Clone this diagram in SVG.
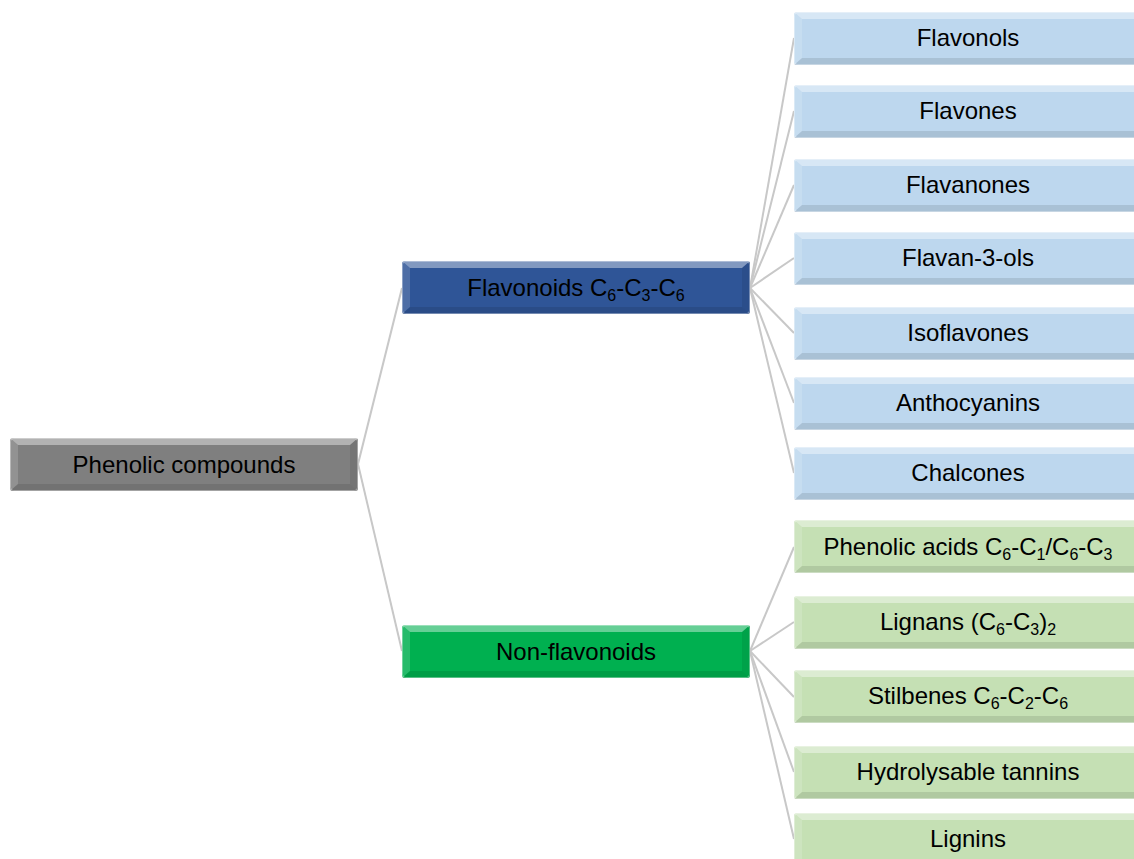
<svg xmlns="http://www.w3.org/2000/svg" xmlns:xlink="http://www.w3.org/1999/xlink" width="1134" height="859" viewBox="0 0 1134 859">
<style>
.lbl{font-family:"Liberation Sans",Arial,sans-serif;font-size:24px;fill:#000;text-anchor:middle}
.sub{font-size:16px}
.conn{stroke:#c8c8c8;stroke-width:2;fill:none}
.root{fill:#7f7f7f}
.flav{fill:#2f5597}
.non{fill:#00b050}
.lb{fill:#bdd7ee}
.lg{fill:#c5e0b4}
</style>
<defs>
<g id="bevel">
<polygon points="0,0 348,0 340,7 8,7" fill="#fff" opacity="0.4"/>
<polygon points="0,0 8,7 8,46 0,53" fill="#fff" opacity="0.15"/>
<polygon points="348,0 340,7 340,46 348,53" fill="#000" opacity="0.08"/>
<polygon points="0,53 8,46 340,46 348,53" fill="#000" opacity="0.1"/>
<rect x="0.5" y="0.5" width="347" height="52" rx="3" fill="none" stroke="#fff" stroke-opacity="0.35"/>
</g>
</defs>
<g id="connectors">
<line class="conn" x1="358" y1="464" x2="402" y2="288"/>
<line class="conn" x1="358" y1="464" x2="402" y2="651"/>
<line class="conn" x1="750" y1="288" x2="794" y2="38"/>
<line class="conn" x1="750" y1="288" x2="794" y2="111"/>
<line class="conn" x1="750" y1="288" x2="794" y2="185"/>
<line class="conn" x1="750" y1="288" x2="794" y2="258"/>
<line class="conn" x1="750" y1="288" x2="794" y2="333"/>
<line class="conn" x1="750" y1="288" x2="794" y2="403"/>
<line class="conn" x1="750" y1="288" x2="794" y2="473"/>
<line class="conn" x1="750" y1="651" x2="794" y2="547"/>
<line class="conn" x1="750" y1="651" x2="794" y2="622"/>
<line class="conn" x1="750" y1="651" x2="794" y2="697"/>
<line class="conn" x1="750" y1="651" x2="794" y2="772"/>
<line class="conn" x1="750" y1="651" x2="794" y2="839"/>
</g>
<g id="node-root" transform="translate(10,438)">
<rect class="root" width="348" height="53" rx="3"/><use xlink:href="#bevel"/>
<text class="lbl" x="174" y="35">Phenolic compounds</text>
</g>
<g id="node-flavonoids" transform="translate(402,261)">
<rect class="flav" width="348" height="53" rx="3"/><use xlink:href="#bevel"/>
<text class="lbl" x="174" y="35">Flavonoids C<tspan class="sub" dy="5">6</tspan><tspan dy="-5">-C</tspan><tspan class="sub" dy="5">3</tspan><tspan dy="-5">-C</tspan><tspan class="sub" dy="5">6</tspan></text>
</g>
<g id="node-nonflavonoids" transform="translate(402,625)">
<rect class="non" width="348" height="53" rx="3"/><use xlink:href="#bevel"/>
<text class="lbl" x="174" y="35">Non-flavonoids</text>
</g>
<g id="node-flavonols" transform="translate(794,12)">
<rect class="lb" width="348" height="53" rx="3"/><use xlink:href="#bevel"/>
<text class="lbl" x="174" y="34">Flavonols</text>
</g>
<g id="node-flavones" transform="translate(794,85)">
<rect class="lb" width="348" height="53" rx="3"/><use xlink:href="#bevel"/>
<text class="lbl" x="174" y="34">Flavones</text>
</g>
<g id="node-flavanones" transform="translate(794,159)">
<rect class="lb" width="348" height="53" rx="3"/><use xlink:href="#bevel"/>
<text class="lbl" x="174" y="34">Flavanones</text>
</g>
<g id="node-flavan3ols" transform="translate(794,232)">
<rect class="lb" width="348" height="53" rx="3"/><use xlink:href="#bevel"/>
<text class="lbl" x="174" y="34">Flavan-3-ols</text>
</g>
<g id="node-isoflavones" transform="translate(794,307)">
<rect class="lb" width="348" height="53" rx="3"/><use xlink:href="#bevel"/>
<text class="lbl" x="174" y="34">Isoflavones</text>
</g>
<g id="node-anthocyanins" transform="translate(794,377)">
<rect class="lb" width="348" height="53" rx="3"/><use xlink:href="#bevel"/>
<text class="lbl" x="174" y="34">Anthocyanins</text>
</g>
<g id="node-chalcones" transform="translate(794,447)">
<rect class="lb" width="348" height="53" rx="3"/><use xlink:href="#bevel"/>
<text class="lbl" x="174" y="34">Chalcones</text>
</g>
<g id="node-phenolicacids" transform="translate(794,520)">
<rect class="lg" width="348" height="53" rx="3"/><use xlink:href="#bevel"/>
<text class="lbl" x="174" y="35">Phenolic acids C<tspan class="sub" dy="5">6</tspan><tspan dy="-5">-C</tspan><tspan class="sub" dy="5">1</tspan><tspan dy="-5">/C</tspan><tspan class="sub" dy="5">6</tspan><tspan dy="-5">-C</tspan><tspan class="sub" dy="5">3</tspan></text>
</g>
<g id="node-lignans" transform="translate(794,596)">
<rect class="lg" width="348" height="53" rx="3"/><use xlink:href="#bevel"/>
<text class="lbl" x="174" y="34">Lignans (C<tspan class="sub" dy="5">6</tspan><tspan dy="-5">-C</tspan><tspan class="sub" dy="5">3</tspan><tspan dy="-5">)</tspan><tspan class="sub" dy="5">2</tspan></text>
</g>
<g id="node-stilbenes" transform="translate(794,670)">
<rect class="lg" width="348" height="53" rx="3"/><use xlink:href="#bevel"/>
<text class="lbl" x="174" y="34">Stilbenes C<tspan class="sub" dy="5">6</tspan><tspan dy="-5">-C</tspan><tspan class="sub" dy="5">2</tspan><tspan dy="-5">-C</tspan><tspan class="sub" dy="5">6</tspan></text>
</g>
<g id="node-hydrolysable" transform="translate(794,746)">
<rect class="lg" width="348" height="53" rx="3"/><use xlink:href="#bevel"/>
<text class="lbl" x="174" y="34">Hydrolysable tannins</text>
</g>
<g id="node-lignins" transform="translate(794,813)">
<rect class="lg" width="348" height="53" rx="3"/><use xlink:href="#bevel"/>
<text class="lbl" x="174" y="34">Lignins</text>
</g>
</svg>
